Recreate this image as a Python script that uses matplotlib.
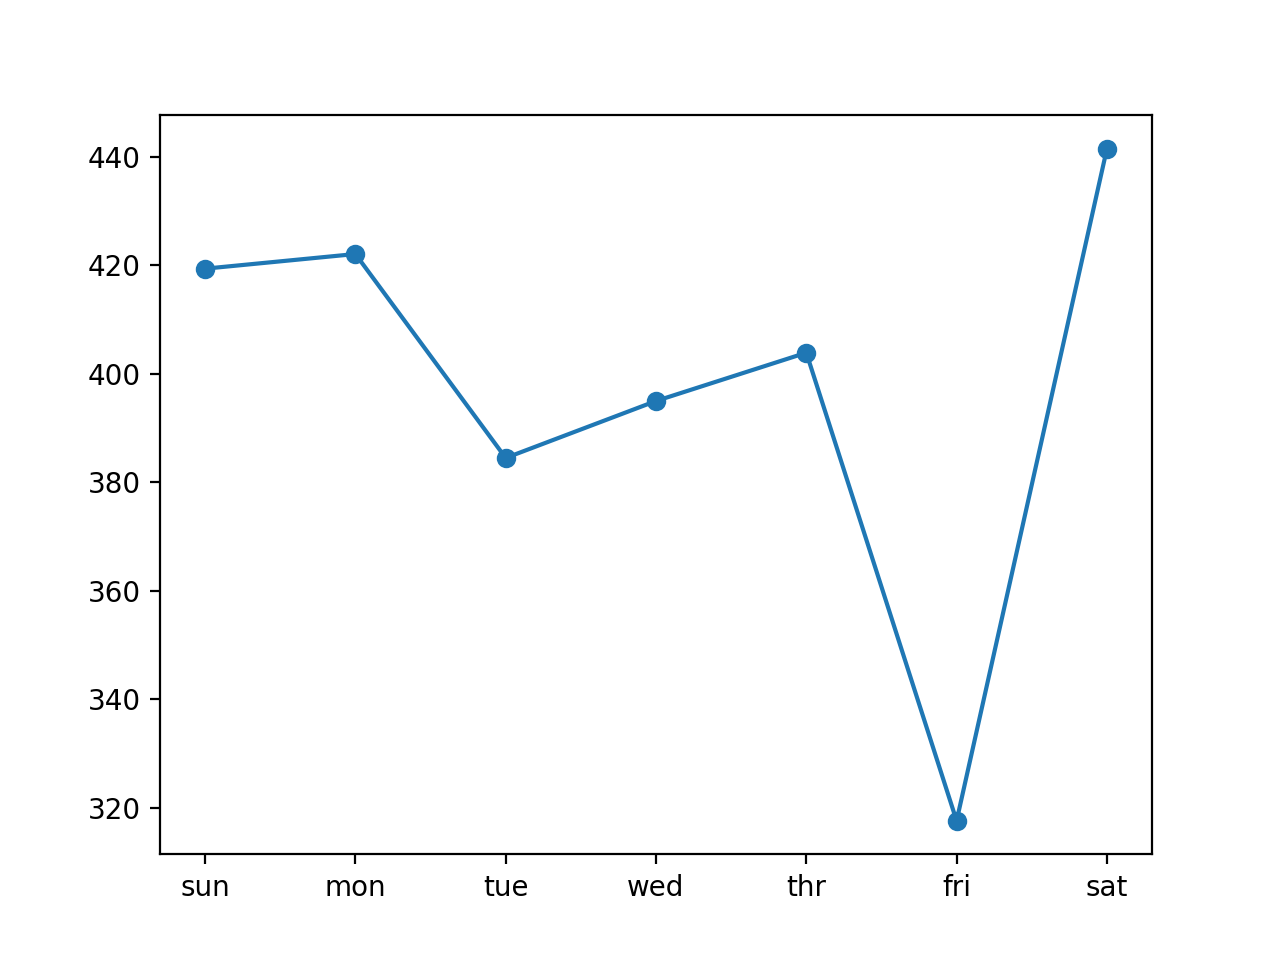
import matplotlib
matplotlib.use('Agg')
import matplotlib.pyplot as plt

days = ['sun', 'mon', 'tue', 'wed', 'thr', 'fri', 'sat']
values = [419.4, 422.1, 384.5, 395.0, 403.9, 317.6, 441.5]

fig, ax = plt.subplots(figsize=(6.4, 4.8), dpi=200)
ax.plot(days, values, marker='o')

fig.savefig('out.png', dpi=200)
